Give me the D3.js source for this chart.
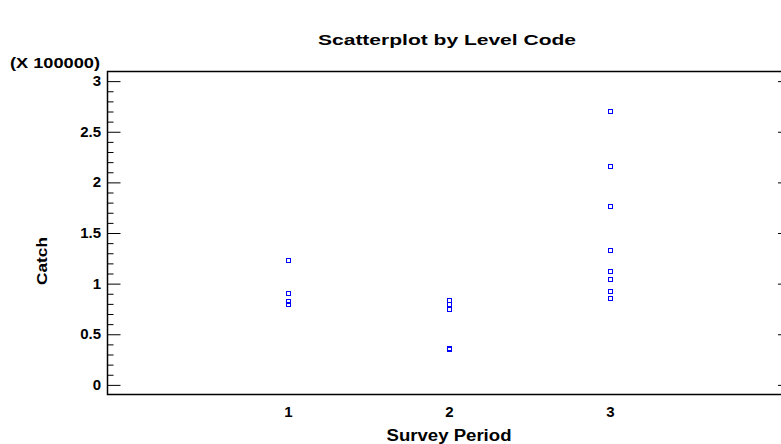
<!DOCTYPE html>
<html><head><meta charset="utf-8">
<script src="https://cdn.jsdelivr.net/npm/d3@7"></script>
<style>body{margin:0;background:#fff}svg{display:block}text{font-family:"Liberation Sans",Arial,sans-serif;font-weight:bold;fill:#000}</style>
</head><body>
<svg id="c" width="781" height="444"></svg>
<script>
const level1 = [1.22, 0.895, 0.82, 0.79];
const level2 = [0.83, 0.79, 0.735, 0.35, 0.345];
const level3 = [2.70, 2.15, 1.76, 1.32, 1.11, 1.04, 0.92, 0.85];
const levels = [1, 2, 3];
const yTicks = [0, 0.5, 1, 1.5, 2, 2.5, 3];

(function(){
const svg = d3.select("#c");
const x = d3.scaleLinear().domain([1, 3]).range([288.5, 610.5]);
const y = d3.scaleLinear().domain([-0.1, 3.1]).range([395, 71]);
const pL = 107.5, pT = 71.5, pB = 394.5, pR = 792;

// frame
svg.append("path").attr("d", `M${pR},${pT}H${pL}V${pB}H${pR}`)
  .attr("fill","none").attr("stroke","#000").attr("stroke-width",1.5);

// left axis
const minor = d3.range(0, 31).map(i => i/10);
const gy = svg.append("g").attr("transform", `translate(${pL},0)`)
  .call(d3.axisRight(y).tickValues(yTicks).tickSize(13).tickFormat(""));
gy.select(".domain").remove();
const gym = svg.append("g").attr("transform", `translate(${pL},0)`)
  .call(d3.axisRight(y).tickValues(minor.filter(v => !yTicks.some(t => Math.abs(t-v)<1e-9))).tickSize(6).tickFormat(""));
gym.select(".domain").remove();

// right axis ticks
const gr = svg.append("g").attr("transform", `translate(${pR},0)`)
  .call(d3.axisLeft(y).tickValues(yTicks).tickSize(14).tickFormat(""));
gr.select(".domain").remove();
svg.selectAll(".tick line").attr("stroke","#000").attr("stroke-width",1);

// y tick labels
svg.append("g").selectAll("text").data(yTicks).join("text")
  .attr("x", 101).attr("y", d => y(d) + 5).attr("text-anchor","end")
  .attr("font-size", 15).text(d => d3.format("")(d));

// x labels
svg.append("g").selectAll("text").data(levels).join("text")
  .attr("x", d => x(d)).attr("y", 417).attr("text-anchor","middle")
  .attr("font-size", 15).text(d => d);

// points
const data = [];
[level1, level2, level3].forEach((arr, i) => arr.forEach(v => data.push({lv: levels[i], v})));
svg.append("g").selectAll("rect").data(data).join("rect")
  .attr("x", d => Math.round(x(d.lv)) - 2.5).attr("y", d => Math.round(y(d.v)) - 2.5)
  .attr("width", 4).attr("height", 4)
  .attr("fill","none").attr("stroke","#0000ff").attr("stroke-width",1);

// titles
svg.append("text").attr("x", 447).attr("y", 45).attr("text-anchor","middle")
  .attr("font-size", 14).attr("textLength", 258).attr("lengthAdjust","spacingAndGlyphs")
  .text("Scatterplot by Level Code");
svg.append("text").attr("x", 10).attr("y", 68).attr("font-size", 15)
  .attr("textLength", 90).attr("lengthAdjust","spacingAndGlyphs").text("(X 100000)");
svg.append("text").attr("transform", "translate(47,261) rotate(-90)").attr("text-anchor","middle")
  .attr("font-size", 15).attr("textLength", 48).attr("lengthAdjust","spacingAndGlyphs").text("Catch");
svg.append("text").attr("x", 449).attr("y", 441).attr("text-anchor","middle")
  .attr("font-size", 16).attr("textLength", 125).attr("lengthAdjust","spacingAndGlyphs").text("Survey Period");
})();
</script>
</body></html>
